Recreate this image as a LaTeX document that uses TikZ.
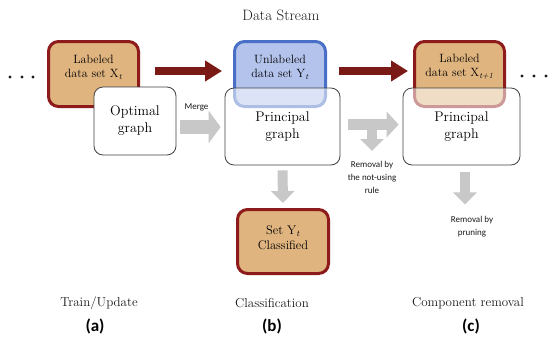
\documentclass[tikz,border=0pt]{standalone}
\usepackage{fontspec}
\newfontfamily\calib{Carlito}
\usetikzlibrary{arrows.meta}
\definecolor{boxtan}{HTML}{DFB47F}
\definecolor{boxred}{HTML}{8E1B1B}
\definecolor{arrred}{HTML}{7A1A16}
\definecolor{blueb}{HTML}{4A6FC6}
\definecolor{bluef}{HTML}{B3C3EC}
\definecolor{grayarr}{HTML}{C8C8C8}
\begin{document}
\begin{tikzpicture}[x=1pt,y=-1pt,
  graybox/.style={draw=black!75, line width=0.8pt, rounded corners=9pt, fill=white, inner sep=0pt},
  veil/.style={fill opacity=0.55, text opacity=1},
  labbox/.style={draw=boxred, line width=3pt, rounded corners=10pt, fill=boxtan, inner sep=0pt, minimum width=90pt, minimum height=65pt},
  unlbox/.style={draw=blueb, line width=3pt, rounded corners=10pt, fill=bluef, inner sep=0pt, minimum width=91pt, minimum height=65pt},
  txt/.style={font=\fontsize{12}{14}\selectfont, align=center, text=black},
  big/.style={font=\fontsize{14}{17}\selectfont, align=center, text=black},
  small/.style={font=\calib\fontsize{9}{13}\selectfont, align=center, text=black!90},
  caption/.style={font=\fontsize{13}{15}\selectfont, text=black!90},
  letter/.style={font=\calib\bfseries\fontsize{17}{20}\selectfont, text=black},
  redarrow/.style={draw=arrred, line width=8pt, -{Triangle[length=17pt,width=20pt]}},
  grayarrow/.style={draw=grayarr, line width=#1, -{Triangle[length=12pt,width=#1*2.3]}},
  dot/.style={circle, fill=black!90, inner sep=0pt, minimum size=3.4pt}
]
\useasboundingbox (0,0) rectangle (548,341);

% title
\node[font=\fontsize{15}{17}\selectfont, text=black!90] (title) at (281,15) {Data Stream};

% dots
\node[dot] (dl1) at (10,77) {};
\node[dot] (dl2) at (22,77) {};
\node[dot] (dl3) at (33,77) {};
\node[dot] (dr1) at (522,76) {};
\node[dot] (dr2) at (534,76) {};
\node[dot] (dr3) at (546,76) {};

% (a)
\node[labbox] (laba) at (93.5,74) {};
\node[txt] (labat) at (93.5,67) {Labeled\\data set X\textsubscript{\itshape t}};
\node[graybox, minimum width=82pt, minimum height=68pt, big] (opt) at (135,121) {Optimal\\graph};

% (b)
\node[unlbox] (unl) at (280,74) {};
\node[txt] (unlt) at (280,67) {Unlabeled\\data set Y\textsubscript{\itshape t}};
\node[graybox, veil, minimum width=115pt, minimum height=77pt, big] (pgb) at (282.5,126.5) {Principal\\graph};

% (c)
\node[labbox] (labc) at (459.5,74) {};
\node[txt] (labct) at (459.5,67) {Labeled\\data set X\textsubscript{\itshape t+1}};
\node[graybox, veil, minimum width=117pt, minimum height=77pt, big] (pgc) at (461.5,126.5) {Principal\\graph};

% classified set
\node[labbox, minimum width=91pt, minimum height=64pt] (sety) at (283,241.5) {};
\node[txt, font=\fontsize{12.5}{15}\selectfont] (setyt) at (283,238) {Set Y\textsubscript{\itshape t}\\Classified};

% red arrows
\draw[redarrow] ([xshift=15pt,yshift=3pt]laba.east) -- ([xshift=-11pt,yshift=3pt]unl.west);
\draw[redarrow] ([xshift=12pt,yshift=3pt]unl.east) -- ([xshift=-5pt,yshift=3pt]labc.west);

% gray arrows
\draw[grayarrow=14pt] ([xshift=4pt,yshift=-6pt]opt.east) -- ([xshift=-4pt,yshift=-0.5pt]pgb.west);
\node[small] (merge) at (196.5,107) {Merge};

\draw[grayarrow=11pt] ([xshift=8pt,yshift=2pt]pgb.east) -- ([xshift=-4pt,yshift=2pt]pgc.west);
\coordinate (tjoin) at (372,129);
\draw[grayarrow=10pt] (tjoin) -- ++(0,22);
\node[small] (rem1) at (372,177) {Removal by\\the not-using\\rule};

\draw[grayarrow=10pt] ([yshift=-5pt]pgb.south) -- ([yshift=5pt]sety.north);
\draw[grayarrow=10pt] ([xshift=3.5pt,yshift=-7pt]pgc.south) -- ++(0,32);
\node[small] (rem2) at (472,226.5) {Removal by\\pruning};

% captions
\node[caption] (ca) at (99,303) {Train/Update};
\node[caption] (cb) at (272,303) {Classification};
\node[caption] (cc) at (468,303) {Component removal};
\node[letter] (la) at (95,326) {(a)};
\node[letter] (lb) at (272,326) {(b)};
\node[letter] (lc) at (471,326) {(c)};
\end{tikzpicture}
\end{document}
